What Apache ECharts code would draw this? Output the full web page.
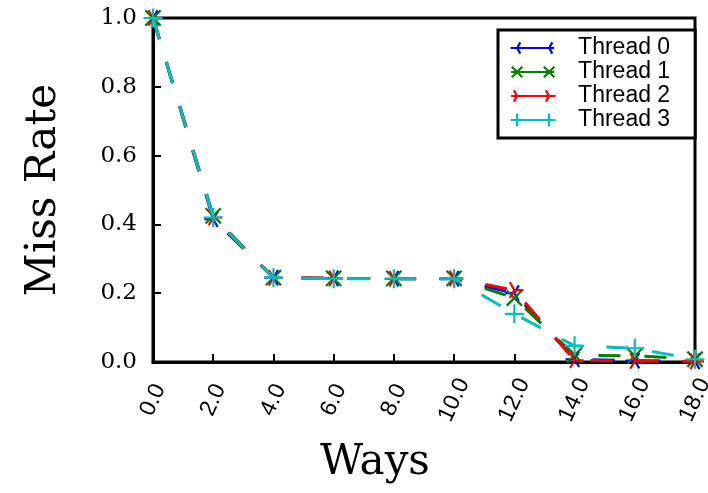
<!DOCTYPE html>
<html>
<head>
<meta charset="utf-8">
<script src="https://cdn.jsdelivr.net/npm/echarts@6/dist/echarts.min.js"></script>
<style>
  html, body { margin: 0; padding: 0; background: #fff; }
  #main { width: 708px; height: 493px; }
</style>
</head>
<body>
<div id="main"></div>
<script>
var ways = [0, 2, 4, 6, 8, 10, 12, 14, 16, 18];
var thread0 = [1.0, 0.415, 0.245, 0.243, 0.242, 0.242, 0.200, 0.008, 0.004, 0.002];
var thread1 = [1.0, 0.425, 0.245, 0.243, 0.243, 0.243, 0.186, 0.020, 0.018, 0.008];
var thread2 = [1.0, 0.420, 0.245, 0.243, 0.242, 0.243, 0.209, 0.005, 0.003, 0.002];
var thread3 = [1.0, 0.420, 0.245, 0.242, 0.242, 0.242, 0.140, 0.047, 0.040, 0.008];
var names = ['Thread 0', 'Thread 1', 'Thread 2', 'Thread 3'];
var colors = ['#0000ff', '#008000', '#ff0000', '#00bfbf'];

// marker shapes drawn as strokes around (cx, cy) with radius r
function marker(kind, cx, cy, r) {
  var h = r * 0.866, s = r * 0.5;
  if (kind === 'triL') return 'M' + cx + ',' + cy + 'L' + (cx - r) + ',' + cy +
    'M' + cx + ',' + cy + 'L' + (cx + s) + ',' + (cy - h) +
    'M' + cx + ',' + cy + 'L' + (cx + s) + ',' + (cy + h);
  if (kind === 'triR') return 'M' + cx + ',' + cy + 'L' + (cx + r) + ',' + cy +
    'M' + cx + ',' + cy + 'L' + (cx - s) + ',' + (cy - h) +
    'M' + cx + ',' + cy + 'L' + (cx - s) + ',' + (cy + h);
  if (kind === 'x') {
    var d = r * 0.8;
    return 'M' + (cx - d) + ',' + (cy - d) + 'L' + (cx + d) + ',' + (cy + d) +
      'M' + (cx - d) + ',' + (cy + d) + 'L' + (cx + d) + ',' + (cy - d);
  }
  return 'M' + (cx - r) + ',' + cy + 'L' + (cx + r) + ',' + cy +
    'M' + cx + ',' + (cy - r) + 'L' + cx + ',' + (cy + r);
}
var kinds = ['triL', 'x', 'triR', 'plus'];
function symbolPath(kind) {
  return 'path://' + marker(kind, 10, 10, 10) + 'M0,0M20,20';
}
function legendPath(kind) {
  return 'path://M2,8L45,8' + marker(kind, 8, 8, 6.5) + marker(kind, 40, 8, 6.5) + 'M0,0M64,16';
}

var dataSets = [thread0, thread1, thread2, thread3];
var sizes = [18, 19, 18, 19];

var series = dataSets.map(function (vals, i) {
  return {
    name: names[i],
    type: 'line',
    data: ways.map(function (w, j) { return [w, vals[j]]; }),
    symbol: symbolPath(kinds[i]),
    symbolSize: sizes[i],
    symbolKeepAspect: true,
    showAllSymbol: true,
    lineStyle: { color: colors[i], width: 3, type: [22, 24] },
    itemStyle: { color: colors[i], borderColor: colors[i], borderWidth: 2.2 },
    z: 2 + i,
    animation: false
  };
});

var serif = 'DejaVu Serif';
var myChart = echarts.init(document.getElementById('main'));
var option = {
  backgroundColor: '#fff',
  animation: false,
  grid: {
    left: 153, right: 13, top: 18, bottom: 131,
    outerBoundsMode: 'none',
    containLabel: false,
    show: true, borderColor: '#000', borderWidth: 3, backgroundColor: 'transparent'
  },
  legend: {
    orient: 'vertical',
    left: 498, top: 30,
    padding: [6, 25, 6, 10],
    itemGap: 0,
    itemWidth: 64,
    itemHeight: 16,
    borderColor: '#000',
    borderWidth: 3,
    backgroundColor: '#fff',
    textStyle: { fontFamily: 'Liberation Sans', fontSize: 23, lineHeight: 24, color: '#000' },
    data: names.map(function (n, i) {
      return {
        name: n,
        icon: legendPath(kinds[i]),
        itemStyle: { color: colors[i], borderColor: colors[i], borderWidth: 2.2 }
      };
    })
  },
  xAxis: {
    type: 'value',
    min: 0, max: 18, interval: 2,
    name: 'Ways',
    nameLocation: 'middle',
    nameGap: 80,
    nameMoveOverlap: false,
    nameTextStyle: { fontFamily: serif, fontSize: 42, color: '#000', padding: [0, 98, 0, 0] },
    axisLine: { show: true, lineStyle: { color: '#000', width: 3 } },
    axisTick: { show: true, inside: true, length: 8, lineStyle: { color: '#000', width: 2 } },
    splitLine: { show: false },
    axisLabel: {
      rotate: 65,
      margin: 38,
      align: 'center',
      verticalAlign: 'middle',
      fontFamily: 'Liberation Sans',
      fontSize: 23,
      color: '#000',
      formatter: function (v) { return v.toFixed(1); }
    }
  },
  yAxis: {
    type: 'value',
    min: 0, max: 1, interval: 0.2,
    name: 'Miss Rate',
    nameLocation: 'middle',
    nameGap: 88,
    nameMoveOverlap: false,
    nameTextStyle: { fontFamily: serif, fontSize: 42, color: '#000' },
    axisLine: { show: true, lineStyle: { color: '#000', width: 3 } },
    axisTick: { show: true, inside: true, length: 8, lineStyle: { color: '#000', width: 2 } },
    splitLine: { show: false },
    axisLabel: {
      margin: 16,
      fontFamily: serif,
      fontSize: 23,
      color: '#000',
      formatter: function (v) { return v.toFixed(1); }
    }
  },
  series: series
};
myChart.setOption(option);
window.onresize = function () {
  myChart.resize();
};
</script>
</body>
</html>
